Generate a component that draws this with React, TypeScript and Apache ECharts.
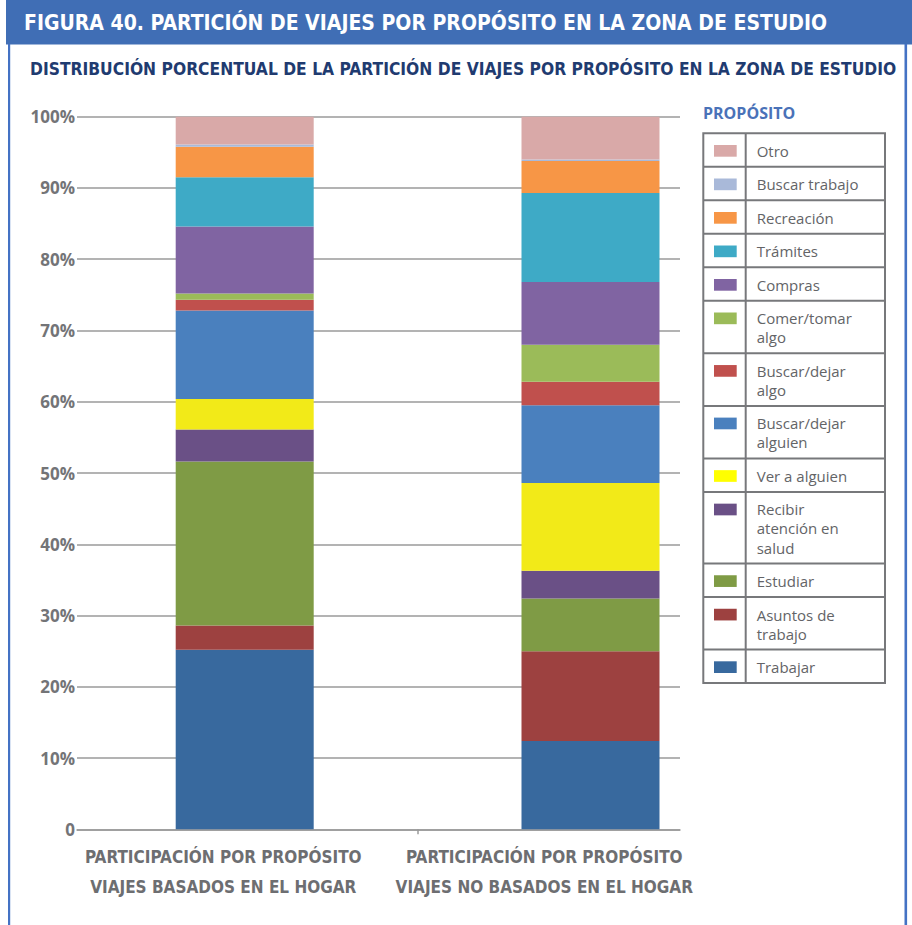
import React, { useEffect, useRef } from 'react';
import * as echarts from 'echarts';

const categories = [
  'PARTICIPACIÓN POR PROPÓSITO\nVIAJES BASADOS EN EL HOGAR',
  'PARTICIPACIÓN POR PROPÓSITO\nVIAJES NO BASADOS EN EL HOGAR',
];
const purposes = [
  'Trabajar', 'Asuntos de trabajo', 'Estudiar', 'Recibir atención en salud', 'Ver a alguien',
  'Buscar/dejar alguien', 'Buscar/dejar algo', 'Comer/tomar algo', 'Compras', 'Trámites',
  'Recreación', 'Buscar trabajo', 'Otro',
];
const legendLabels = [
  'Trabajar', 'Asuntos de\ntrabajo', 'Estudiar', 'Recibir\natención en\nsalud', 'Ver a alguien',
  'Buscar/dejar\nalguien', 'Buscar/dejar\nalgo', 'Comer/tomar\nalgo', 'Compras', 'Trámites',
  'Recreación', 'Buscar trabajo', 'Otro',
];
const homeBased = [25.2, 3.4, 23.0, 4.5, 4.3, 12.4, 1.5, 0.9, 9.4, 6.9, 4.3, 0.3, 3.9];
const nonHomeBased = [12.4, 12.6, 7.4, 3.9, 12.3, 10.9, 3.3, 5.2, 8.8, 12.5, 4.5, 0.2, 6.0];
const colors = [
  '#38699E', '#9D4140', '#7F9B45', '#6A5086', '#F2EA18', '#4A80BE', '#C0504D',
  '#9BBB59', '#8064A2', '#3EAAC6', '#F79646', '#A9B9D9', '#D9A9A8',
];
const yTickLabels = ['0', '10%', '20%', '30%', '40%', '50%', '60%', '70%', '80%', '90%', '100%'];

const title = 'FIGURA 40. PARTICIÓN DE VIAJES POR PROPÓSITO EN LA ZONA DE ESTUDIO';
const subtitle = 'DISTRIBUCIÓN PORCENTUAL DE LA PARTICIÓN DE VIAJES POR PROPÓSITO EN LA ZONA DE ESTUDIO';
const legendTitle = 'PROPÓSITO';

const FONT_COND = "'Liberation Sans Narrow','DejaVu Sans Condensed','Open Sans',sans-serif";
const FONT = "'Open Sans',sans-serif";

export default function App() {
  const ref = useRef<HTMLDivElement>(null);
  useEffect(() => {
    const chart = echarts.init(ref.current!, null, { renderer: 'svg' });

    const series = purposes.map((name, i) => ({
      name,
      type: 'bar',
      stack: 'total',
      xAxisIndex: 1,
      yAxisIndex: 1,
      barWidth: 138,
      itemStyle: { color: colors[i] },
      data: [homeBased[i], nonHomeBased[i]],
    }));

    // Legend table (drawn as graphic)
    const L = 703.3, R = 885, T = 133.3, DIV = 745.7;
    const PAD = 14.45, LH = 19.05;
    const border = '#77787b';
    const lg: any[] = [];
    let y = T;
    const order = purposes.map((_, i) => purposes.length - 1 - i);
    order.forEach((idx, k) => {
      const lines = legendLabels[idx].split('\n').length;
      const h = PAD + LH * lines;
      lg.push({
        type: 'rect',
        shape: { x: 714, y: y + 11.7, width: 22.7, height: 11.7 },
        style: { fill: idx === 4 ? '#FFFF00' : colors[idx] },
      });
      lg.push({
        type: 'text',
        x: 756.7,
        y: y + 17.5 - LH / 2,
        style: {
          text: legendLabels[idx],
          fill: '#636467',
          fontFamily: FONT,
          fontSize: 15,
          lineHeight: LH,
          verticalAlign: 'top',
          align: 'left',
        },
      });
      y += h;
      if (k < order.length - 1) {
        lg.push({
          type: 'line',
          shape: { x1: L, y1: y, x2: R, y2: y },
          style: { stroke: border, lineWidth: 2 },
        });
      }
    });
    lg.push({
      type: 'rect',
      shape: { x: L, y: T, width: R - L, height: y - T },
      style: { fill: 'none', stroke: border, lineWidth: 2 },
    });
    lg.push({
      type: 'line',
      shape: { x1: DIV, y1: T, x2: DIV, y2: y },
      style: { stroke: border, lineWidth: 2 },
    });

    const option: any = {
      animation: false,
      backgroundColor: '#ffffff',
      grid: [
        { left: 77, right: 232, top: 116.7, bottom: 95.7 },
        { left: 71.8, right: 148.6, top: 116.7, bottom: 95.7 },
      ],
      xAxis: [
        {
          type: 'category',
          gridIndex: 0,
          position: 'bottom',
          data: [
            { value: categories[0], textStyle: { padding: [0, 9, 0, 0] } },
            { value: categories[1], textStyle: { padding: [0, 0, 0, 30] } },
          ],
          axisLine: { lineStyle: { color: '#9a9a9a', width: 1.5 } },
          axisTick: { show: false },
          axisLabel: {
            interval: 0,
            margin: 13,
            lineHeight: 30,
            fontFamily: FONT_COND,
            fontWeight: 'bold',
            fontSize: 17,
            color: '#6d6e71',
          },
        },
        {
          type: 'category',
          gridIndex: 1,
          position: 'top',
          data: categories,
          show: false,
        },
        {
          type: 'value',
          gridIndex: 1,
          position: 'bottom',
          min: 0,
          max: 2,
          axisLabel: { show: false },
          axisLine: { show: false, onZero: false },
          splitLine: { show: false },
          axisTick: { show: true, customValues: [1], length: 5, lineStyle: { color: '#9a9a9a', width: 1.5 } },
        },
      ],
      yAxis: [
        {
          type: 'value',
          gridIndex: 0,
          min: 0,
          max: 100,
          interval: 10,
          axisLine: { show: false },
          axisTick: { show: false },
          splitLine: { lineStyle: { color: '#9a9a9a', width: 1.5 } },
          axisLabel: {
            margin: 2,
            formatter: (v: number) => yTickLabels[Math.round(v / 10)],
            fontFamily: FONT,
            fontWeight: 'bold',
            fontSize: 17,
            color: '#737477',
          },
        },
        { type: 'value', gridIndex: 1, min: 0, max: 100, show: false },
      ],
      series,
      graphic: [
        { type: 'rect', shape: { x: 6, y: 0, width: 906, height: 44.5 }, style: { fill: '#406EB5' } },
        { type: 'rect', shape: { x: 8, y: 44, width: 2.2, height: 881 }, style: { fill: '#4472C4' } },
        { type: 'rect', shape: { x: 904.5, y: 44, width: 2.6, height: 881 }, style: { fill: '#4472C4' } },
        {
          type: 'text', x: 24, y: 22.5,
          style: { text: title, fill: '#ffffff', fontFamily: FONT_COND, fontWeight: 'bold', fontSize: 21, verticalAlign: 'middle' },
        },
        {
          type: 'text', x: 30, y: 68.5,
          style: { text: subtitle, fill: '#1F3B70', fontFamily: FONT_COND, fontWeight: 'bold', fontSize: 17.3, verticalAlign: 'middle' },
        },
        {
          type: 'text', x: 703, y: 113.3,
          style: { text: legendTitle, fill: '#4A72B8', fontFamily: FONT, fontWeight: 'bold', fontSize: 16, verticalAlign: 'middle' },
        },
        ...lg,
      ],
    };
    chart.setOption(option);
    return () => chart.dispose();
  }, []);
  return <div ref={ref} style={{ position: 'absolute', left: 0, top: 0, width: 912, height: 925 }} />;
}
